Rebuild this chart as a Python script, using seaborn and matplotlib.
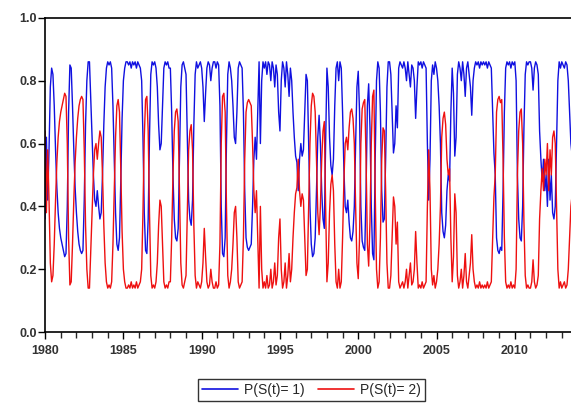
import numpy as np
import pandas as pd
import matplotlib
matplotlib.use("Agg")
import matplotlib.pyplot as plt
from matplotlib.ticker import MultipleLocator, FormatStrFormatter
import seaborn as sns

# Smoothed regime probability P(S(t)=1), monthly, Jan 1980 - Dec 2013 (one row per year)
p_regime1_by_year = {
    1980: [0.36, 0.62, 0.42, 0.58, 0.78, 0.84, 0.82, 0.72, 0.58, 0.46, 0.38, 0.33],
    1981: [0.30, 0.28, 0.26, 0.24, 0.25, 0.40, 0.70, 0.85, 0.84, 0.72, 0.58, 0.46],
    1982: [0.38, 0.32, 0.28, 0.26, 0.25, 0.26, 0.42, 0.66, 0.80, 0.86, 0.86, 0.74],
    1983: [0.62, 0.50, 0.42, 0.40, 0.45, 0.40, 0.36, 0.38, 0.50, 0.66, 0.78, 0.84],
    1984: [0.86, 0.85, 0.86, 0.84, 0.72, 0.55, 0.38, 0.28, 0.26, 0.30, 0.48, 0.68],
    1985: [0.80, 0.84, 0.86, 0.86, 0.85, 0.86, 0.84, 0.86, 0.85, 0.86, 0.84, 0.86],
    1986: [0.85, 0.84, 0.80, 0.62, 0.38, 0.26, 0.25, 0.36, 0.62, 0.82, 0.86, 0.85],
    1987: [0.86, 0.84, 0.78, 0.66, 0.58, 0.60, 0.72, 0.84, 0.86, 0.85, 0.86, 0.84],
    1988: [0.84, 0.70, 0.50, 0.36, 0.30, 0.29, 0.33, 0.55, 0.78, 0.85, 0.86, 0.84],
    1989: [0.82, 0.62, 0.42, 0.36, 0.34, 0.42, 0.66, 0.82, 0.86, 0.84, 0.85, 0.86],
    1990: [0.84, 0.78, 0.67, 0.76, 0.84, 0.86, 0.85, 0.80, 0.84, 0.86, 0.86, 0.84],
    1991: [0.86, 0.85, 0.72, 0.40, 0.25, 0.24, 0.30, 0.60, 0.82, 0.86, 0.84, 0.80],
    1992: [0.72, 0.62, 0.60, 0.70, 0.84, 0.86, 0.85, 0.84, 0.70, 0.45, 0.30, 0.27],
    1993: [0.26, 0.27, 0.28, 0.40, 0.55, 0.62, 0.55, 0.70, 0.86, 0.60, 0.80, 0.86],
    1994: [0.84, 0.86, 0.82, 0.86, 0.85, 0.80, 0.86, 0.84, 0.78, 0.85, 0.82, 0.70],
    1995: [0.64, 0.80, 0.86, 0.84, 0.78, 0.86, 0.82, 0.75, 0.84, 0.80, 0.70, 0.62],
    1996: [0.56, 0.54, 0.45, 0.55, 0.60, 0.56, 0.58, 0.70, 0.82, 0.80, 0.60, 0.40],
    1997: [0.28, 0.24, 0.25, 0.30, 0.45, 0.62, 0.69, 0.60, 0.45, 0.36, 0.33, 0.60],
    1998: [0.84, 0.78, 0.62, 0.53, 0.50, 0.55, 0.72, 0.84, 0.86, 0.80, 0.86, 0.84],
    1999: [0.70, 0.52, 0.40, 0.38, 0.42, 0.35, 0.30, 0.29, 0.32, 0.40, 0.60, 0.78],
    2000: [0.83, 0.70, 0.40, 0.29, 0.27, 0.26, 0.45, 0.72, 0.79, 0.65, 0.40, 0.25],
    2001: [0.23, 0.55, 0.80, 0.86, 0.84, 0.70, 0.45, 0.35, 0.36, 0.55, 0.78, 0.86],
    2002: [0.86, 0.82, 0.70, 0.57, 0.60, 0.72, 0.65, 0.84, 0.86, 0.85, 0.84, 0.86],
    2003: [0.84, 0.80, 0.86, 0.82, 0.78, 0.85, 0.84, 0.80, 0.68, 0.78, 0.86, 0.85],
    2004: [0.86, 0.84, 0.86, 0.85, 0.84, 0.60, 0.42, 0.55, 0.80, 0.85, 0.82, 0.86],
    2005: [0.84, 0.80, 0.72, 0.60, 0.38, 0.32, 0.30, 0.34, 0.45, 0.50, 0.48, 0.70],
    2006: [0.84, 0.76, 0.56, 0.62, 0.82, 0.86, 0.84, 0.80, 0.86, 0.82, 0.75, 0.84],
    2007: [0.86, 0.82, 0.78, 0.69, 0.80, 0.84, 0.86, 0.85, 0.86, 0.84, 0.86, 0.85],
    2008: [0.86, 0.85, 0.86, 0.84, 0.86, 0.85, 0.84, 0.70, 0.57, 0.50, 0.30, 0.26],
    2009: [0.25, 0.27, 0.26, 0.45, 0.70, 0.84, 0.86, 0.85, 0.86, 0.84, 0.86, 0.85],
    2010: [0.86, 0.80, 0.50, 0.36, 0.30, 0.29, 0.40, 0.65, 0.82, 0.86, 0.85, 0.86],
    2011: [0.86, 0.84, 0.77, 0.84, 0.86, 0.85, 0.82, 0.64, 0.55, 0.48, 0.55, 0.45],
    2012: [0.50, 0.40, 0.55, 0.42, 0.50, 0.38, 0.36, 0.40, 0.60, 0.80, 0.86, 0.84],
    2013: [0.86, 0.85, 0.84, 0.86, 0.85, 0.80, 0.70, 0.60, 0.56, 0.58, 0.55, 0.57],
}

series_labels = ["P(S(t)= 1)", "P(S(t)= 2)"]
series_colors = ["#1010e0", "#ee1010"]
year_ticks = [1980, 1985, 1990, 1995, 2000, 2005, 2010]
prob_ticks = [0.0, 0.2, 0.4, 0.6, 0.8, 1.0]

# Build the long-form table: the two regime probabilities sum to one
years = sorted(p_regime1_by_year)
t = np.array([y + m / 12.0 for y in years for m in range(12)])
p1 = np.array([v for y in years for v in p_regime1_by_year[y]])
p2 = 1.0 - p1
df = pd.DataFrame({
    "time": np.concatenate([t, t]),
    "prob": np.concatenate([p1, p2]),
    "series": [series_labels[0]] * len(t) + [series_labels[1]] * len(t),
})

sns.set_style("ticks")
plt.rcParams["font.family"] = ["Liberation Sans", "DejaVu Sans"]

fig = plt.figure(figsize=(5.71, 4.05), dpi=100)
ax = fig.add_axes([0.079, 0.180, 0.935, 0.776])

sns.lineplot(data=df, x="time", y="prob", hue="series", hue_order=series_labels,
             palette=series_colors, linewidth=1.0, ax=ax, legend=False)

ax.set_xlim(1980, 2014.1)
ax.set_ylim(0.0, 1.0)
ax.set_xticks(year_ticks)
ax.xaxis.set_minor_locator(MultipleLocator(1))
ax.set_yticks(prob_ticks)
ax.yaxis.set_major_formatter(FormatStrFormatter("%.1f"))
ax.set_xlabel("")
ax.set_ylabel("")

for side in ["left", "top", "bottom"]:
    ax.spines[side].set_linewidth(1.2)
    ax.spines[side].set_color("black")
ax.spines["right"].set_visible(False)

ax.tick_params(axis="both", which="major", direction="out", length=5, width=1.0,
               labelsize=9, colors="black", labelcolor="#333333")
ax.tick_params(axis="x", which="major", pad=4)
ax.tick_params(axis="y", which="major", pad=1)
ax.tick_params(axis="x", which="minor", direction="out", length=4, width=1.0)
for lbl in ax.get_xticklabels() + ax.get_yticklabels():
    lbl.set_fontweight("bold")

handles = [plt.Line2D([], [], color=c, lw=1.2) for c in series_colors]
leg = fig.legend(handles, series_labels, loc="center", bbox_to_anchor=(0.545, 0.037),
                 ncol=2, frameon=True, fancybox=False, fontsize=10, handlelength=2.6,
                 handletextpad=0.4, columnspacing=1.0, borderpad=0.3)
leg.get_frame().set_edgecolor("black")
leg.get_frame().set_linewidth(1.0)

fig.savefig("out.png", dpi=100)
